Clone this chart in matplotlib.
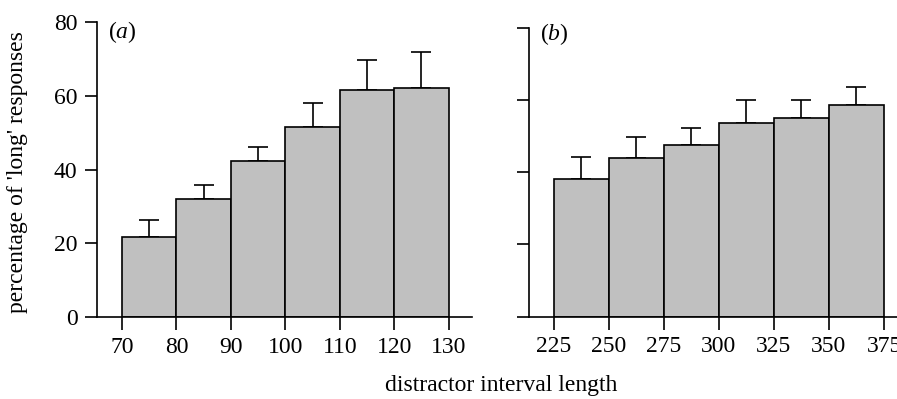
import matplotlib
matplotlib.use("Agg")
import matplotlib.pyplot as plt
import numpy as np

plt.rcParams['font.family'] = ['Liberation Serif', 'DejaVu Serif']
plt.rcParams['mathtext.fontset'] = 'custom'
plt.rcParams['mathtext.it'] = 'Liberation Serif:italic'
plt.rcParams['mathtext.rm'] = 'Liberation Serif'

# Panel (a)
a_edges = [70, 80, 90, 100, 110, 120, 130]
a_values = [21.8, 31.9, 42.3, 51.4, 61.4, 62.0]
a_errors = [4.4, 4.0, 3.7, 6.7, 8.3, 9.7]

# Panel (b)
b_edges = [225, 250, 275, 300, 325, 350, 375]
b_values = [38.3, 44.0, 47.6, 53.6, 55.2, 58.7]
b_errors = [6.1, 5.8, 4.8, 6.5, 5.0, 5.0]

y_ticks = [0, 20, 40, 60, 80]

W, H = 897, 399
fig = plt.figure(figsize=(W / 100, H / 100), dpi=100)

def px_axes(left, right, top, bottom):
    return fig.add_axes([left / W, 1 - bottom / H, (right - left) / W, (bottom - top) / H])

ax_a = px_axes(97, 472, 21.7, 317.3)
ax_b = px_axes(529.3, 897, 28.3, 316.5)

FS = 17

def draw(ax, edges, values, errors, xlim, show_ylabels):
    edges = np.array(edges, dtype=float)
    lefts = edges[:-1]
    widths = np.diff(edges)
    centers = lefts + widths / 2
    ax.bar(lefts, values, width=widths, align='edge', color='#c0c0c0',
           edgecolor='black', linewidth=1.2, zorder=2)
    ax.errorbar(centers, values, yerr=[np.zeros(len(errors)), errors], fmt='none',
                ecolor='black', elinewidth=1.2, capsize=7.2, capthick=1.2, zorder=1)
    ax.set_xlim(*xlim)
    ax.set_ylim(0, 80)
    ax.set_xticks(edges)
    ax.set_xticklabels([str(int(e)) for e in edges])
    ax.set_yticks(y_ticks)
    if show_ylabels:
        ax.set_yticklabels([str(t) for t in y_ticks])
    else:
        ax.set_yticklabels([])
    for s in ['top', 'right']:
        ax.spines[s].set_visible(False)
    for s in ['left', 'bottom']:
        ax.spines[s].set_linewidth(1.2)
    ax.tick_params(direction='out', length=9, width=1.2, labelsize=FS, pad=5)

draw(ax_a, a_edges, a_values, a_errors, (65.4, 134.3), True)
draw(ax_b, b_edges, b_values, b_errors, (213.9, 380.9), False)

fig.text(108 / W, 1 - 19 / H, r'($\mathit{a}$)', fontsize=FS, ha='left', va='top')
fig.text(540 / W, 1 - 21 / H, r'($\mathit{b}$)', fontsize=FS, ha='left', va='top')

fig.text(18 / W, 1 - 172 / H, "percentage of 'long' responses", fontsize=FS,
         rotation=90, ha='center', va='center')
fig.text(501 / W, 1 - 385 / H, 'distractor interval length', fontsize=FS,
         ha='center', va='center')

fig.savefig('out.png', dpi=100)
